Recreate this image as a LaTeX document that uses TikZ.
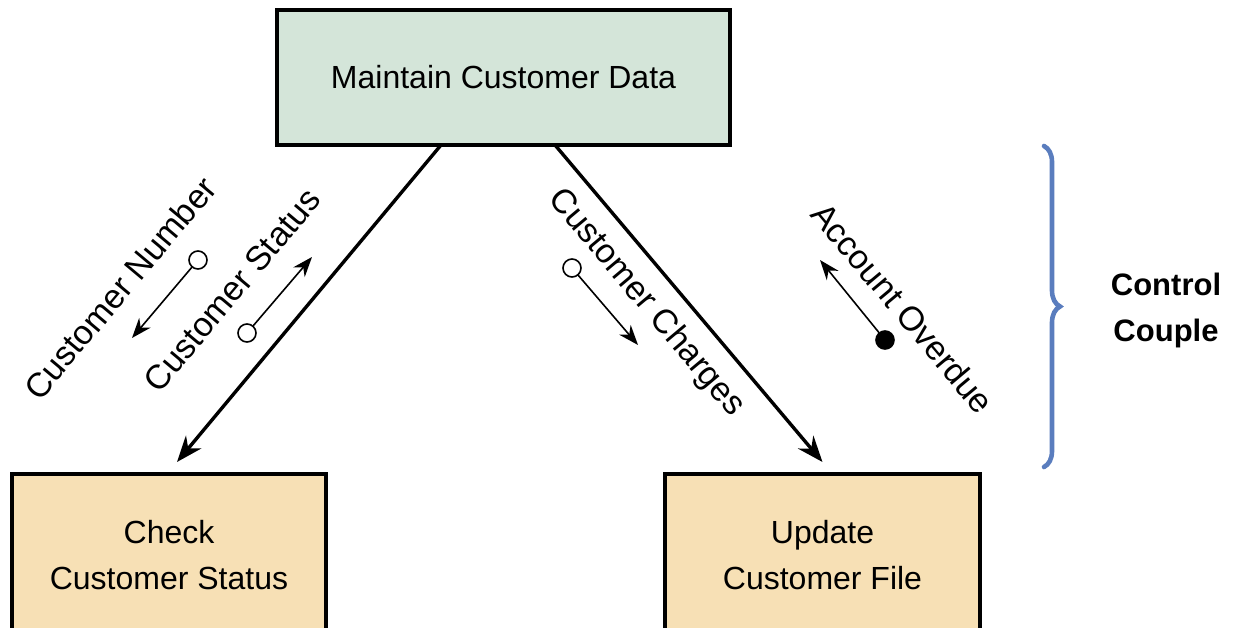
\documentclass[tikz,border=0pt]{standalone}
\usepackage{fontspec}
\setmainfont{Liberation Sans}
\usetikzlibrary{arrows.meta}
\usetikzlibrary{decorations.pathreplacing}
\definecolor{boxgreen}{RGB}{212,229,217}
\definecolor{boxtan}{RGB}{247,224,181}
\definecolor{braceblue}{RGB}{90,125,190}

\begin{document}
\begin{tikzpicture}[x=0.5pt, y=-0.5pt, line cap=round,
    module/.style={draw, line width=2pt, align=center, inner sep=0pt,
        font=\fontsize{16}{23}\selectfont},
    flow/.style={line width=1.7pt, -{Stealth[length=13pt, width=10pt]}},
    couple/.style={line width=0.8pt, -{Stealth[length=10pt, width=7.5pt]}},
    datadot/.style={circle, draw, line width=0.8pt, fill=white, inner sep=0pt, minimum size=9pt},
    ctrldot/.style={datadot, fill=black},
    lbl/.style={font=\fontsize{17}{20}\selectfont, inner sep=0pt}]
    % page frame
    \useasboundingbox (0,0) rectangle (1237,627);

    % modules
    \node[module, fill=boxgreen, minimum width=226.5pt, minimum height=67.5pt] (main) at (503.5,77.5) {Maintain Customer Data};
    \node[module, fill=boxtan, minimum width=157pt, minimum height=81pt] (chk) at (169,555) {Check\\Customer Status};
    \node[module, fill=boxtan, minimum width=157.5pt, minimum height=81pt] (upd) at (822.5,555) {Update\\Customer File};

    % calls
    \draw[flow] ([xshift=-31.25pt, yshift=1pt]main.south) -- ([xshift=4pt, yshift=5pt]chk.north);
    \draw[flow] ([xshift=25.75pt, yshift=1pt]main.south) -- ([yshift=5pt]upd.north);

    % data couples
    \node[datadot] (cn) at (198,260) {};
    \coordinate (cnE) at (132,338);
    \draw[couple] (cn) -- (cnE);
    \node[lbl, rotate=50] (cnL) at (120,288) {Customer Number};

    \node[datadot] (cs) at (247,333) {};
    \coordinate (csE) at (312,257);
    \draw[couple] (cs) -- (csE);
    \node[lbl, rotate=50] (csL) at (232,290) {Customer Status};

    \node[datadot] (cc) at (572,268) {};
    \coordinate (ccE) at (638,345);
    \draw[couple] (cc) -- (ccE);
    \node[lbl, rotate=-50] (ccL) at (646,303) {Customer Charges};

    % control couple
    \node[ctrldot] (ao) at (885,340) {};
    \coordinate (aoE) at (820,260);
    \draw[couple] (ao) -- (aoE);
    \node[lbl, rotate=-50] (aoL) at (903,308) {Account Overdue};

    % legend
    \draw[braceblue, line width=2.3pt, decorate, decoration={brace, amplitude=8pt}] (1044,146) -- (1044,467);
    \node[align=center, font=\fontsize{15.5}{23}\bfseries\selectfont] (legend) at (1166,310) {Control\\Couple};
\end{tikzpicture}
\end{document}
